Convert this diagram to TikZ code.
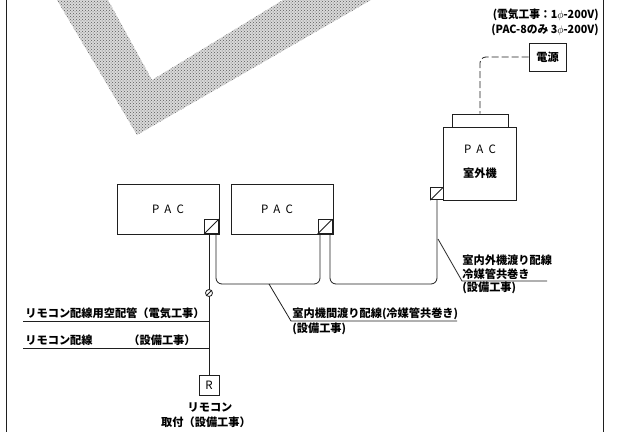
\documentclass[tikz,border=0pt]{standalone}
\usepackage{fontspec}
\setmainfont{Noto Sans CJK JP}
\usepackage{xcolor}
\usetikzlibrary{patterns}
\definecolor{band}{rgb}{0.35,0.35,0.35}
\definecolor{wire}{rgb}{0.12,0.12,0.12}

\begin{document}
\begin{tikzpicture}[thick, x=1pt, y=-1pt,
        unit/.style = {draw=wire, inner sep=0pt, font=\fontsize{11.5}{12}\selectfont},
        port/.style = {draw=wire, fill=white, minimum size=14pt, inner sep=0pt},
        note/.style = {anchor=west, inner sep=0pt, font=\fontsize{11.2}{12}\selectfont\bfseries},
        wiring/.style = {draw=wire, rounded corners=6pt}]
        \useasboundingbox (0,0) rectangle (629,432);

        % Shaded band
        \fill[black!15] (57,0) -- (137,135) -- (371,0) -- (283,0) -- (152,80) -- (108,0) -- cycle;
        \fill[pattern=crosshatch dots, pattern color=band] (57,0) -- (137,135) -- (371,0) -- (283,0) -- (152,80) -- (108,0) -- cycle;

        % Frame lines
        \draw[wire] (6,0) -- (6,432);
        \draw[wire] (603,0) -- (603,432);

        % Indoor units
        \node[unit,minimum width=102pt,minimum height=50pt] (unitA) at (168,209) {P\;\,A\;\,C};
        \node[unit,minimum width=102pt,minimum height=50pt] (unitB) at (282,209) {\hspace{-10pt}P\;\,A\;\,C};
        \node[port] (portA) at (211.5,226.5) {};
        \node[port] (portB) at (325,226.5) {};
        \draw[wire] (portA.south west) -- (portA.north east);
        \draw[wire] (portB.south west) -- (portB.north east);

        % Outdoor unit
        \node[unit,minimum width=56pt,minimum height=13pt] (cap) at (480,120.5) {};
        \node[unit,minimum width=73pt,minimum height=73pt,fill=white] (unitC) at (479.5,163.5) {};
        \node[font=\fontsize{11.5}{12}\selectfont,inner sep=0pt] (nameC) at (480,149) {P\;\,A\;\,C};
        \node[font=\fontsize{11.2}{12}\selectfont\bfseries,inner sep=0pt] (roomC) at (480,173) {室外機};
        \node[port,minimum size=12.5pt] (portC) at (437,193.5) {};
        \draw[wire] (portC.south west) -- (portC.north east);

        % Power supply
        \node[unit,minimum width=37pt,minimum height=28pt,font=\fontsize{11.2}{12}\selectfont\bfseries] (power) at (547.5,57) {電源};
        \draw[wiring,dashed,dash pattern=on 7pt off 3pt] (power.west) -| (cap.north);
        \node[note,anchor=east] (specA) at (599,15) {\scalebox{0.96}[1]{(電気工事：1$\phi$-200V)}};
        \node[note,anchor=east] (specB) at (599,30) {\scalebox{0.96}[1]{(PAC-8のみ 3$\phi$-200V)}};

        % Remote
        \node[unit,minimum size=20pt] (remote) at (209,385) {R};
        \coordinate (dropA) at (209,234);
        \draw[wire] (dropA) -- (remote.north);
        \node[draw=wire,circle,fill=white,minimum size=7pt,inner sep=0pt] (gland) at (209,293) {};
        \draw[wire] (gland.south west) -- (gland.north east);
        \node[note,anchor=center] (remoteA) at (210,407) {リモコン};
        \node[note,anchor=center] (remoteB) at (206,422) {取付（設備工事）};

        % Piping
        \coordinate (tapA) at (216,234);
        \coordinate (tapB) at (320,234);
        \coordinate (tapC) at (330,234);
        \draw[wiring] (tapA) -- ++(0,50) -| (tapB);
        \draw[wiring] (tapC) -- ++(0,50) -| (portC.south);

        % Leaders at the remote line
        \coordinate (leadA) at (23,321);
        \coordinate (leadB) at (23,348);
        \draw[wire] (leadA) -- (leadA -| remote.north);
        \draw[wire] (leadB) -- (leadB -| remote.north);
        \node[note] (ductText) at (25,313) {リモコン配線用空配管（電気工事）};
        \node[note] (wireText) at (25,340) {リモコン配線};
        \node[note,anchor=east] (wireWork) at (196,340) {（設備工事）};

        % Leader between indoor units
        \coordinate (hitB) at (269,284);
        \coordinate (kneeB) at (291,321);
        \coordinate (endB) at (457,321);
        \draw[wire] (hitB) -- (kneeB) -- (endB);
        \node[note] (linkText) at (292,314) {室内機間渡り配線(冷媒管共巻き)};
        \node[note] (linkWork) at (292,329) {(設備工事)};

        % Leader to outdoor unit
        \coordinate (hitC) at (438,239);
        \coordinate (kneeC) at (462,281);
        \coordinate (endC) at (547,281);
        \draw[wire] (hitC) -- (kneeC) -- (endC);
        \node[note] (outText) at (462,260) {室内外機渡り配線};
        \node[note] (outPipe) at (462,274) {冷媒管共巻き};
        \node[note] (outWork) at (462,288) {(設備工事)};
    \end{tikzpicture}
\end{document}
